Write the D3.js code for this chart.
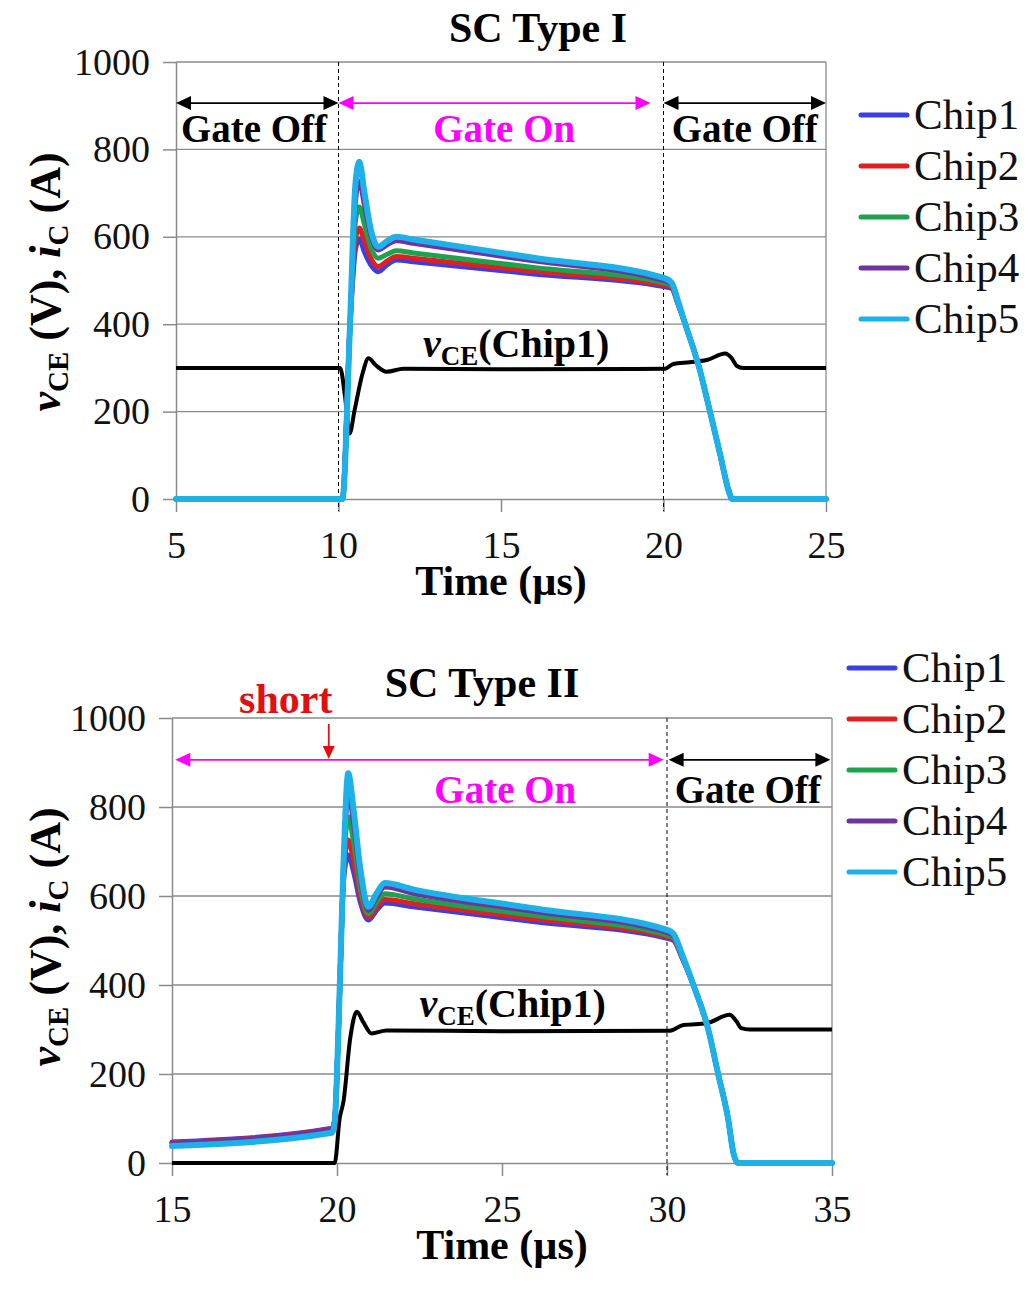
<!DOCTYPE html>
<html><head><meta charset="utf-8">
<script src="https://cdn.jsdelivr.net/npm/d3@7"></script>
<style>body{margin:0;background:#fff} text{font-family:"Liberation Serif","Times New Roman",Times,serif}</style>
</head><body><svg id="c" width="1028" height="1291" style="background:#fff"></svg>
<script>
// ---------- data ----------
const seriesNames = ["Chip1","Chip2","Chip3","Chip4","Chip5"];
const seriesColors = ["#3c3fe0","#e02020","#1ea24e","#7034a0","#1eb0e8"];
const yTicks = [0,200,400,600,800,1000];
const xTicksTop = [5,10,15,20,25];
const xTicksBot = [15,20,25,30,35];

// SC Type I
const tTop = [5,10.12,10.35,10.52,10.64,10.8,11.0,11.22,11.5,11.78,12.3,16,20,20.25,20.45,20.67,21.1,21.43,21.75,22.0,22.12,25];
const chip1Top = [0,0,390,570,595,565,535,520,536,547,543,515,486,482,445,400,300,200,100,20,0,0];
const chip2Top = [0,0,390,595,620,590,550,532,545,555,551,521,490,485,447,400,300,200,100,20,0,0];
const chip3Top = [0,0,390,635,668,628,575,551,560,568,563,530,495,489,448,400,300,200,100,20,0,0];
const chip4Top = [0,0,390,680,727,672,602,570,582,591,585,545,500,492,450,400,300,200,100,20,0,0];
const chip5Top = [0,0,390,720,772,700,615,577,590,600,594,552,506,495,452,400,300,200,100,20,0,0];
const tVceTop = [5,10.05,10.2,10.34,10.5,10.75,10.92,11.15,11.48,12,15,20.05,20.3,20.8,21.33,21.9,22.1,22.25,22.45,25];
const vceTop  = [300,300,235,150,205,290,322,306,291,298,297,298,309,313,318,333,322,305,300,300];

// SC Type II
const tBot = [15,19.85,19.93,20.04,20.2,20.34,20.5,20.7,20.95,21.2,21.45,22.3,26,30,30.2,30.45,30.8,31.25,31.55,31.85,32.02,32.15,35];
const chip1Bot = [47,78,97,290,635,692,655,588,546,568,584,576,542,505,500,462,400,300,200,100,20,0,0];
const chip2Bot = [46,77,96,290,650,726,680,602,552,575,592,583,548,508,503,464,400,300,200,100,20,0,0];
const chip3Bot = [44,75,95,290,660,778,722,622,560,586,605,594,556,512,506,466,400,300,200,100,20,0,0];
const chip4Bot = [45,76,95,290,670,831,765,645,568,598,620,606,565,518,510,468,400,300,200,100,20,0,0];
const chip5Bot = [38,68,90,290,680,876,795,665,576,606,629,615,572,524,515,470,400,300,200,100,20,0,0];
const tVceBot = [15,19.93,20.08,20.2,20.4,20.6,20.8,21.05,21.5,25,30.05,30.5,31.2,31.9,32.1,32.25,32.5,35];
const vceBot  = [0,0,100,140,280,340,316,291,298,296,297,310,314,333,319,303,300,300];

// annotations (data units)
const dashedTop = [10,20];
const dashedBot = [30];
const arrowsTop = [{t0:5,t1:10,v:906,c:"#000"},{t0:10,t1:19.6,v:906,c:"#ff00ff"},{t0:20,t1:25,v:906,c:"#000"}];
const arrowsBot = [{t0:15.1,t1:29.9,v:906,c:"#ff00ff"},{t0:30.05,t1:34.95,v:906,c:"#000"}];
const gateTextTop = [{t:7.4,txt:"Gate Off",c:"#000"},{t:15.1,txt:"Gate On",c:"#ff00ff"},{t:22.5,txt:"Gate Off",c:"#000"}];
const gateTextBot = [{t:25.1,txt:"Gate On",c:"#ff00ff"},{t:32.45,txt:"Gate Off",c:"#000"}];

// ---------- drawing ----------
const FONT = '"Liberation Serif","Times New Roman",Times,serif';
const svg = d3.select("#c");
svg.append("rect").attr("width",1028).attr("height",1291).attr("fill","#fff");

function drawPanel(p){
  const x = d3.scaleLinear().domain(p.xd).range([p.x0,p.x1]);
  const y = d3.scaleLinear().domain([0,1000]).range([p.y0,p.y1]);
  const g = svg.append("g");
  const grid = "#8a8a8a";
  yTicks.filter(v=>v>0).forEach(v=>{
    g.append("line").attr("x1",p.x0).attr("x2",p.x1).attr("y1",y(v)).attr("y2",y(v))
     .attr("stroke",grid).attr("stroke-width",1.3);
  });
  g.append("line").attr("x1",p.x1).attr("x2",p.x1).attr("y1",y(0)).attr("y2",y(1000))
   .attr("stroke",grid).attr("stroke-width",1.3);
  const ay = g.append("g").attr("transform",`translate(${p.x0},0)`)
    .call(d3.axisLeft(y).tickValues(yTicks).tickFormat(d3.format("d")).tickSize(13).tickSizeOuter(0).tickPadding(13));
  const ax = g.append("g").attr("transform",`translate(0,${p.y0})`)
    .call(d3.axisBottom(x).tickValues(p.xt).tickFormat(d3.format("d")).tickSize(13).tickSizeOuter(0).tickPadding(19));
  [ay,ax].forEach(a=>{
    a.attr("font-family",null).attr("font-size",null);
    a.selectAll("path,line").attr("stroke",grid).attr("stroke-width",1.5);
    a.selectAll("text").attr("font-size",38).attr("fill","#111").style("font-family",FONT);
  });
  p.dashed.forEach(t=>{
    g.append("line").attr("x1",x(t)).attr("x2",x(t)).attr("y1",y(1000)).attr("y2",y(0)+12)
     .attr("stroke","#000").attr("stroke-width",1).attr("stroke-dasharray","4,3");
  });
  const lineV = d3.line().x((d,i)=>x(p.tv[i])).y(d=>y(d)).curve(d3.curveMonotoneX);
  g.append("path").attr("d",lineV(p.vce)).attr("fill","none").attr("stroke","#000")
   .attr("stroke-width",4).attr("stroke-linejoin","round");
  const lineC = d3.line().x((d,i)=>x(p.t[i])).y(d=>y(d)).curve(d3.curveMonotoneX);
  p.chips.forEach((arr,k)=>{
    g.append("path").attr("d",lineC(arr)).attr("fill","none").attr("stroke",seriesColors[k])
     .attr("stroke-width",k===4?6:5).attr("stroke-linejoin","round").attr("stroke-linecap","round");
  });
  p.arrows.forEach(a=>{
    const xa=x(a.t0), xb=x(a.t1), ya=y(a.v);
    g.append("line").attr("x1",xa+6).attr("x2",xb-6).attr("y1",ya).attr("y2",ya)
     .attr("stroke",a.c).attr("stroke-width",1.8);
    g.append("path").attr("d",`M${xa},${ya}L${xa+15},${ya-7}L${xa+15},${ya+7}Z`).attr("fill",a.c);
    g.append("path").attr("d",`M${xb},${ya}L${xb-15},${ya-7}L${xb-15},${ya+7}Z`).attr("fill",a.c);
  });
  p.gateText.forEach(s=>{
    g.append("text").attr("x",x(s.t)).attr("y",y(p.gateV)).attr("text-anchor","middle")
     .attr("font-size",39).attr("font-weight","bold").attr("fill",s.c).text(s.txt);
  });
  const lt = g.append("text").attr("x",x(p.lab[0])).attr("y",y(p.lab[1]))
    .attr("font-size",40).attr("font-weight","bold").attr("fill","#000");
  lt.append("tspan").attr("font-style","italic").text("v");
  lt.append("tspan").attr("font-size",27).attr("dy",8).text("CE");
  lt.append("tspan").attr("dy",-8).text("(Chip1)");
  g.append("text").attr("x",p.title[1]).attr("y",p.title[2]).attr("text-anchor","middle")
   .attr("font-size",42).attr("font-weight","bold").text(p.title[0]);
  const yt = g.append("text").attr("transform",`translate(60,${p.ytY}) rotate(-90)`)
    .attr("text-anchor","middle").attr("font-size",44).attr("font-weight","bold");
  yt.append("tspan").attr("font-style","italic").text("v");
  yt.append("tspan").attr("font-size",29).attr("dy",8).text("CE");
  yt.append("tspan").attr("dy",-8).text(" (V), ");
  yt.append("tspan").attr("font-style","italic").text("i");
  yt.append("tspan").attr("font-size",29).attr("dy",8).text("C");
  yt.append("tspan").attr("dy",-8).text(" (A)");
  g.append("text").attr("x",(p.x0+p.x1)/2).attr("y",p.y0+96).attr("text-anchor","middle")
   .attr("font-size",42).attr("font-weight","bold").text("Time (\u00b5s)");
  seriesNames.forEach((n,k)=>{
    const ly = p.leg[1]+k*51;
    g.append("line").attr("x1",p.leg[0]).attr("x2",p.leg[0]+46).attr("y1",ly).attr("y2",ly)
     .attr("stroke",seriesColors[k]).attr("stroke-width",5).attr("stroke-linecap","round");
    g.append("text").attr("x",p.leg[0]+53).attr("y",ly+14).attr("font-size",43).attr("fill","#111").text(n);
  });
  return {x,y,g};
}

drawPanel({xd:[5,25],x0:176,x1:826,y0:499,y1:62,xt:xTicksTop,
  t:tTop,chips:[chip1Top,chip2Top,chip3Top,chip4Top,chip5Top],tv:tVceTop,vce:vceTop,
  dashed:dashedTop,arrows:arrowsTop,gateText:gateTextTop,gateV:818,lab:[12.6,325],
  title:["SC Type I",538,42],ytY:282,leg:[861,115]});

const pb = drawPanel({xd:[15,35],x0:172,x1:832,y0:1163,y1:718,xt:xTicksBot,
  t:tBot,chips:[chip1Bot,chip2Bot,chip3Bot,chip4Bot,chip5Bot],tv:tVceBot,vce:vceBot,
  dashed:dashedBot,arrows:arrowsBot,gateText:gateTextBot,gateV:808,lab:[22.5,328],
  title:["SC Type II",482,697],ytY:937,leg:[849,668]});

const shortT = 19.75;
pb.g.append("text").attr("x",pb.x(shortT)-43).attr("y",713).attr("text-anchor","middle")
  .attr("font-size",42).attr("font-weight","bold").attr("fill","#e01010").text("short");
pb.g.append("line").attr("x1",pb.x(shortT)).attr("x2",pb.x(shortT)).attr("y1",724).attr("y2",748)
  .attr("stroke","#e01010").attr("stroke-width",1.8);
pb.g.append("path").attr("d",`M${pb.x(shortT)},${759}l-6,-13l12,0Z`).attr("fill","#e01010");
</script></body></html>
